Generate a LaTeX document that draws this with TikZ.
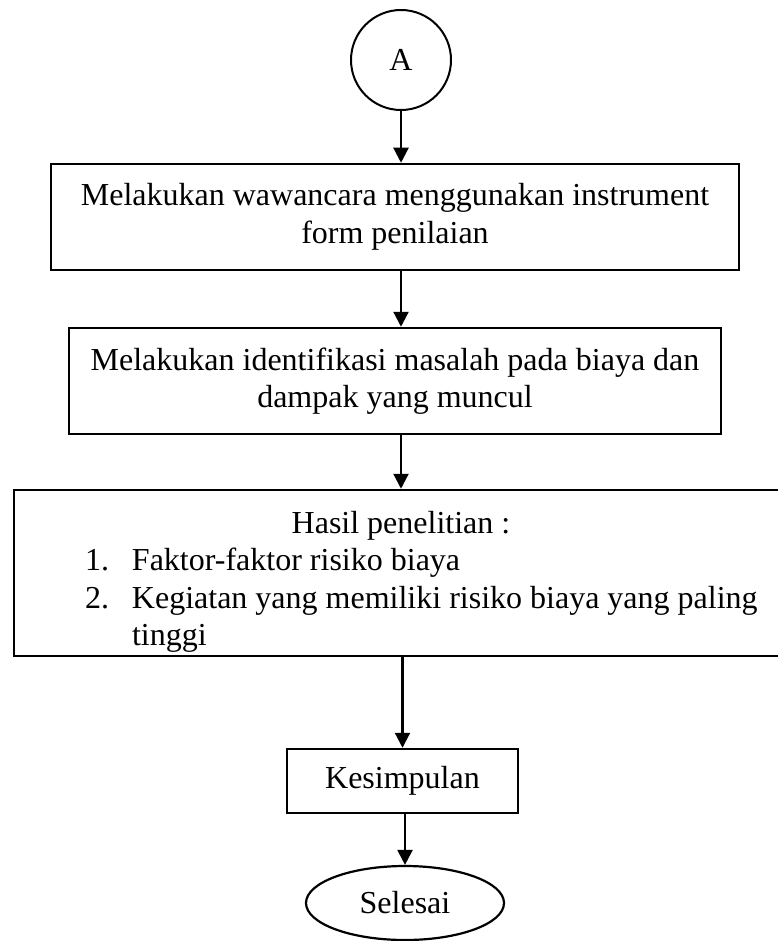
\documentclass[tikz,border=0pt]{standalone}
\usepackage{fontspec}
\setmainfont{Liberation Serif}
\usepackage{tikz}
\usetikzlibrary{arrows.meta}
\usetikzlibrary{calc}
\usetikzlibrary{shapes.geometric}

\begin{document}
\begin{tikzpicture}[x=1pt,y=-1pt,->,>={Triangle[length=15pt,width=15pt]},
  line width=2.2pt,
  every node/.style={font=\fontsize{32}{37.5}\selectfont},
  main box/.style={rectangle,draw,line width=2.5pt,inner sep=0pt,align=center},
  end node/.style={ellipse,draw,inner sep=0pt,minimum width=198pt,minimum height=74pt}]

  \useasboundingbox (0,0) rectangle (777,941);

  \node[circle,draw,line width=2pt,minimum size=100pt,inner sep=0pt] (A) at (401,60) {A};

  \node[main box,minimum width=688pt,minimum height=106pt] (wawancara) at (395,217)
    {Melakukan wawancara menggunakan instrument\\form penilaian};

  \node[main box,minimum width=652pt,minimum height=106pt] (identifikasi) at (395,381)
    {Melakukan identifikasi masalah pada biaya dan\\dampak yang muncul};

  \node[main box,text width=774pt,minimum height=166pt,align=left] (hasil) at (401,573)
    {\spaceskip=0pt \xspaceskip=0pt
     {\centering\rule{0pt}{40pt}Hasil penelitian :\par}
     \noindent\hspace*{71pt}\makebox[47pt][l]{1.}\mbox{Faktor-faktor risiko biaya}\\
     \hspace*{71pt}\makebox[47pt][l]{2.}\mbox{Kegiatan yang memiliki risiko biaya yang paling}\\
     \hspace*{118pt}tinggi};

  \node[main box,minimum width=231pt,minimum height=64pt] (simpulan) at (402.5,781) {Kesimpulan};

  \node[end node] (selesai) at (405,903) {Selesai};

  % alur
  \draw (A.south) -- (A.south |- wawancara.north);
  \draw (wawancara.south -| A) -- (identifikasi.north -| A);
  \draw (identifikasi.south -| A) -- (hasil.north -| A);
  \draw (hasil.south -| simpulan.north) -- (simpulan.north);
  \draw (simpulan.south -| selesai.north) -- (selesai.north);
\end{tikzpicture}
\end{document}
